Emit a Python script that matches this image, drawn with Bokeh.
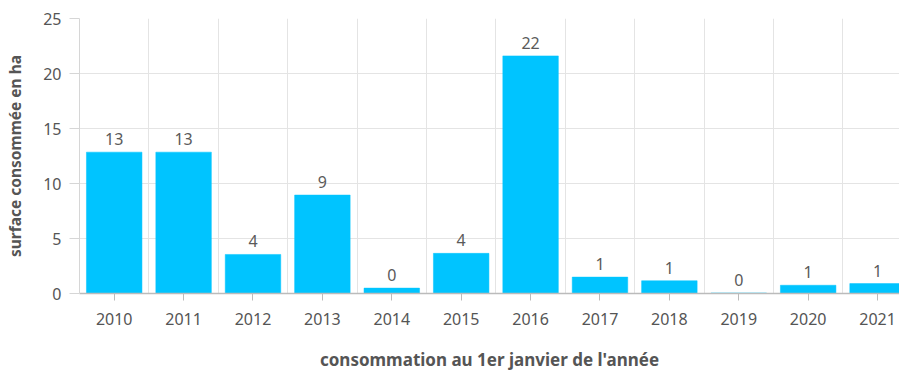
from bokeh.plotting import figure
from bokeh.models import ColumnDataSource, FixedTicker, Range1d
from bokeh.core.properties import value
from bokeh.embed import file_html
from bokeh.resources import INLINE

# Land consumed per year (hectares), as of 1 January
years = ["2010", "2011", "2012", "2013", "2014", "2015",
         "2016", "2017", "2018", "2019", "2020", "2021"]
surface_ha = [12.85, 12.85, 3.55, 8.95, 0.49, 3.65,
              21.6, 1.49, 1.16, 0.05, 0.75, 0.9]
y_ticks = [0, 5, 10, 15, 20, 25]

FONT = "Noto Sans"
TEXT = "#555555"

idx = list(range(len(years)))
source = ColumnDataSource(data=dict(
    x=idx,
    top=surface_ha,
    label=[str(round(v)) for v in surface_ha],
))

p = figure(
    width=899, height=374,
    x_range=Range1d(-0.5, 11.316), y_range=Range1d(0, 25),
    output_backend="svg", toolbar_location=None,
    min_border_left=79, min_border_right=0,
    min_border_top=18, min_border_bottom=81,
)
p.outline_line_color = None
p.background_fill_color = "white"
p.border_fill_color = "white"

p.vbar(x="x", top="top", width=0.8, bottom=0, source=source,
       fill_color="#00c4ff", line_color="#00c4ff", line_width=0.5)

p.text(x="x", y="top", text="label", source=source,
       text_align="center", text_baseline="alphabetic", y_offset=-13,
       text_font=value(FONT), text_font_size="16px", text_color="#5a5a5a")

# x axis: one tick per year, grid lines between years
xa = p.xaxis[0]
xa.ticker = FixedTicker(ticks=idx)
xa.major_label_overrides = {i: y for i, y in zip(idx, years)}
xa.axis_label = "consommation au 1er janvier de l'année"
xa.axis_label_text_font = FONT
xa.axis_label_text_font_style = "bold"
xa.axis_label_text_font_size = "17px"
xa.axis_label_text_color = "#555555"
xa.axis_label_standoff = 20
xa.major_label_text_font = FONT
xa.major_label_text_font_size = "16px"
xa.major_label_text_color = TEXT
xa.major_label_standoff = 12
xa.major_tick_in = 0
xa.major_tick_out = 7
xa.major_tick_line_color = "#bbbbbb"
xa.minor_tick_line_color = None
xa.axis_line_color = "#bbbbbb"
xa.axis_line_width = 1.5

p.xgrid.ticker = FixedTicker(ticks=[i - 0.5 for i in range(len(years) + 1)])
p.xgrid.grid_line_color = "#e4e4e4"

# y axis
ya = p.yaxis[0]
ya.ticker = FixedTicker(ticks=y_ticks)
ya.axis_label = "surface consommée en ha"
ya.axis_label_text_font = FONT
ya.axis_label_text_font_style = "bold"
ya.axis_label_text_font_size = "15.5px"
ya.axis_label_text_color = "#555555"
ya.axis_label_standoff = 14
ya.major_label_text_font = FONT
ya.major_label_text_font_size = "16px"
ya.major_label_text_color = TEXT
ya.major_label_standoff = 8
ya.major_tick_in = 0
ya.major_tick_out = 10
ya.major_tick_line_color = "#d6d6d6"
ya.minor_tick_line_color = None
ya.axis_line_color = "#d6d6d6"

p.ygrid.ticker = FixedTicker(ticks=y_ticks)
p.ygrid.grid_line_color = "#e4e4e4"

open("out.html", "w").write(file_html(p, INLINE))
